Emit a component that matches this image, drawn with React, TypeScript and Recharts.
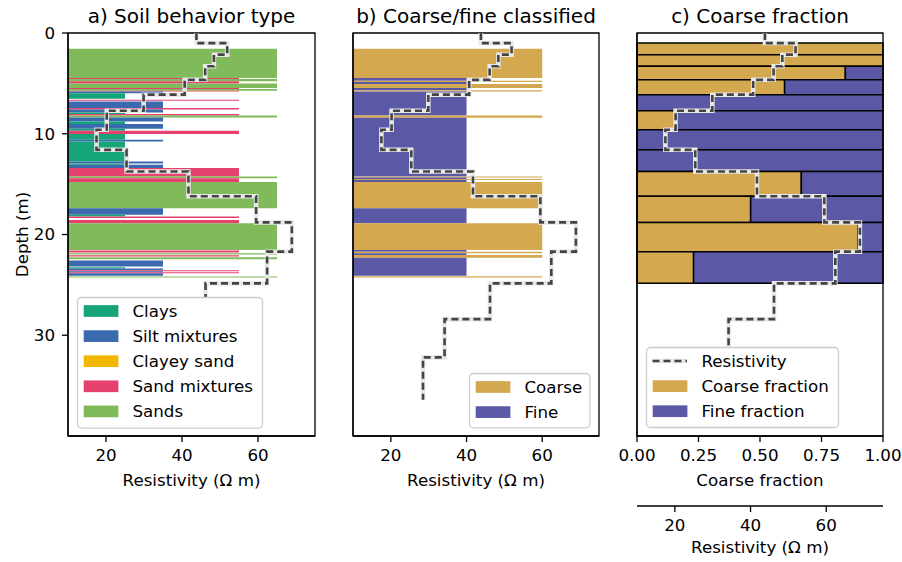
import React from "react";
import { ComposedChart, XAxis, YAxis, ReferenceArea, Scatter, Label } from "recharts";

const FONT = "'DejaVu Sans', sans-serif";
const FS = 16.7;

// ---- layered resistivity model ----
const layerTops = [0, 1.0, 2.15, 3.3, 4.65, 6.12, 7.72, 9.6, 11.6, 13.75, 16.2, 18.8, 21.7, 24.85, 28.4, 32.2];
const lastLayerBottom = 36.4;
const layerResistivity = [43.8, 51.9, 48.4, 46.1, 40.7, 29.9, 20.2, 17.5, 25.4, 41.7, 59.5, 68.9, 62.4, 46.2, 34.2, 28.5];
// coarse fraction per layer (null = no CPT data)
const coarseFraction = [null, 1, 1, 0.847, 0.6, 0, 0.163, 0, 0, 0.668, 0.462, 0.898, 0.23, null, null, null];

// ---- soil behavior type ----
const sbtNames = ["Clays", "Silt mixtures", "Clayey sand", "Sand mixtures", "Sands"];
const sbtColors = ["#16a57b", "#3a69ae", "#f2b701", "#e7426f", "#80ba5a"];
const sbtValue = [25, 35, 45, 55, 65];
// [top, bottom, class index]
const sbtLayers: [number, number, number][] = [
  [1.56, 4.47, 4],
  [4.47, 4.57, 3],
  [4.57, 4.8, 4],
  [4.8, 5.0, 3],
  [5.0, 5.45, 4],
  [5.45, 5.55, 3],
  [5.55, 5.72, 4],
  [5.72, 5.8, 3],
  [5.8, 5.97, 1],
  [5.97, 6.53, 0],
  [6.62, 6.72, 3],
  [6.79, 7.45, 1],
  [7.45, 7.6, 3],
  [7.6, 7.9, 1],
  [7.9, 8.05, 0],
  [8.05, 8.18, 3],
  [8.18, 8.38, 4],
  [8.38, 8.78, 1],
  [8.78, 9.04, 0],
  [9.04, 9.5, 1],
  [9.5, 9.7, 0],
  [9.7, 10.03, 3],
  [10.03, 10.6, 0],
  [10.6, 10.76, 1],
  [10.76, 12.75, 0],
  [12.75, 12.95, 1],
  [12.95, 13.08, 0],
  [13.08, 13.41, 1],
  [13.41, 14.24, 3],
  [14.24, 14.41, 4],
  [14.41, 14.8, 3],
  [14.8, 17.39, 4],
  [17.39, 18.05, 1],
  [18.05, 18.21, 0],
  [18.21, 18.35, 3],
  [18.55, 18.88, 3],
  [18.88, 21.53, 4],
  [21.59, 21.79, 3],
  [21.85, 21.98, 4],
  [22.05, 22.18, 3],
  [22.25, 22.45, 4],
  [22.58, 23.18, 1],
  [23.24, 23.37, 0],
  [23.37, 23.55, 1],
  [23.55, 23.65, 3],
  [23.65, 23.75, 1],
  [23.75, 23.85, 3],
  [23.85, 24.1, 1],
  [24.18, 24.28, 4],
];

// ---- coarse / fine classification ----
const cfNames = ["Coarse", "Fine"];
const cfColors = ["#d4a84e", "#5b58a6"];
const cfValue = [60, 40];
const cfLayers: [number, number, number][] = [
  [1.56, 4.47, 0],
  [4.47, 4.74, 1],
  [4.74, 4.87, 0],
  [4.87, 5.07, 1],
  [5.07, 5.47, 0],
  [5.47, 5.67, 1],
  [5.67, 5.8, 0],
  [5.8, 8.19, 1],
  [8.19, 8.4, 0],
  [8.4, 14.24, 1],
  [14.24, 14.34, 0],
  [14.34, 14.48, 1],
  [14.48, 14.6, 0],
  [14.6, 14.8, 1],
  [14.8, 17.39, 0],
  [17.39, 18.88, 1],
  [18.88, 21.53, 0],
  [21.53, 21.7, 1],
  [21.7, 21.86, 0],
  [21.86, 22.03, 1],
  [22.03, 22.3, 0],
  [22.3, 24.1, 1],
  [24.15, 24.27, 0],
];

const RES_DOMAIN: [number, number] = [10, 75];
const RES_TICKS = [20, 40, 60];
const DEPTH_DOMAIN: [number, number] = [0, 40];
const DEPTH_TICKS = [0, 10, 20, 30];
const FRAC_DOMAIN: [number, number] = [0, 1];
const FRAC_TICKS = [0, 0.25, 0.5, 0.75, 1];

const layerBottom = (i: number) => (i + 1 < layerTops.length ? layerTops[i + 1] : lastLayerBottom);

const resPoints = layerTops.flatMap((top, i) => [
  { r: layerResistivity[i], d: top },
  { r: layerResistivity[i], d: layerBottom(i) },
]);

// anchor points so the fraction axis gets a scale
const fracPoints = layerTops
  .map((top, i) => ({ f: coarseFraction[i], d: (top + layerBottom(i)) / 2 }))
  .filter((p) => p.f !== null);

const tickStyle = { fill: "#000", fontSize: FS, fontFamily: FONT };
const labelStyle = { fill: "#000", fontSize: FS, fontFamily: FONT };
const spine = { stroke: "#000", strokeWidth: 1.3 };

const NoDot = () => <g />;

const resLine = (xAxisId: string | number) => [
  <Scatter
    key="halo"
    xAxisId={xAxisId}
    data={resPoints}
    fill="none"
    shape={NoDot}
    line={{ stroke: "#e8e8e8", strokeWidth: 4.5 }}
    isAnimationActive={false}
  />,
  <Scatter
    key="dash"
    xAxisId={xAxisId}
    data={resPoints}
    fill="none"
    shape={NoDot}
    line={{ stroke: "#444444", strokeWidth: 2.6, strokeDasharray: "7 4" }}
    isAnimationActive={false}
  />,
];

// full box around the plot (matplotlib spines)
const frame = (xAxisId: string | number) => (
  <ReferenceArea
    xAxisId={xAxisId}
    x1={RES_DOMAIN[0]}
    x2={RES_DOMAIN[1]}
    y1={DEPTH_DOMAIN[0]}
    y2={DEPTH_DOMAIN[1]}
    fill="none"
    stroke="#000"
    strokeWidth={1.3}
    ifOverflow="visible"
  />
);

const depthAxis = (width: number, showLabels: boolean) => (
  <YAxis
    type="number"
    dataKey="d"
    domain={DEPTH_DOMAIN}
    ticks={DEPTH_TICKS}
    reversed
    allowDataOverflow
    width={width}
    tick={showLabels ? tickStyle : false}
    tickLine={spine}
    axisLine={spine}
    tickSize={6}
    tickMargin={7}
  >
    {showLabels && (
      <Label
        value="Depth (m)"
        angle={-90}
        position="insideLeft"
        offset={22}
        style={{ ...labelStyle, textAnchor: "middle" }}
      />
    )}
  </YAxis>
);

const resAxis = (id: string | number, height: number, offset: number) => (
  <XAxis
    xAxisId={id}
    type="number"
    dataKey="r"
    domain={RES_DOMAIN}
    ticks={RES_TICKS}
    allowDataOverflow
    height={height}
    tick={tickStyle}
    tickLine={spine}
    axisLine={spine}
    tickSize={6}
    tickMargin={7}
  >
    <Label value="Resistivity (Ω m)" position="insideBottom" offset={offset} style={labelStyle} />
  </XAxis>
);

type LegendItem = { label: string; color: string; kind: "patch" | "line" };

const LegendBox = ({ left, top, width, height, items }: { left: number; top: number; width: number; height: number; items: LegendItem[] }) => (
  <svg style={{ position: "absolute", left, top, overflow: "visible" }} width={width} height={height}>
    <rect x={0.5} y={0.5} width={width - 1} height={height - 1} rx={4} fill="#fff" stroke="#cccccc" strokeWidth={1.3} />
    {items.map((it, i) => {
      const cy = 14 + i * 25.1;
      return (
        <g key={it.label}>
          {it.kind === "patch" ? (
            <rect x={6.7} y={cy - 5.85} width={34.7} height={11.7} fill={it.color} />
          ) : (
            <g>
              <line x1={6.5} x2={41} y1={cy} y2={cy} stroke="#e8e8e8" strokeWidth={4.5} />
              <line x1={6.5} x2={41} y1={cy} y2={cy} stroke={it.color} strokeWidth={2.6} strokeDasharray="7 4" />
            </g>
          )}
          <text x={55.4} y={cy} dominantBaseline="central" fontSize={FS} fontFamily={FONT} fill="#000">
            {it.label}
          </text>
        </g>
      );
    })}
  </svg>
);

const Title = ({ center, text }: { center: number; text: string }) => (
  <div
    style={{
      position: "absolute",
      left: center - 150,
      width: 300,
      top: 5,
      textAlign: "center",
      fontFamily: FONT,
      fontSize: 20,
      lineHeight: "23px",
      color: "#000",
      whiteSpace: "nowrap",
    }}
  >
    {text}
  </div>
);

export default function App() {
  return (
    <div style={{ position: "absolute", left: 0, top: 0, width: 902, height: 562, background: "#fff", fontFamily: FONT }}>
      {/* a) soil behavior type */}
      <div style={{ position: "absolute", left: 0, top: 0 }}>
        <ComposedChart width={330} height={506} margin={{ top: 33, right: 15, bottom: 0, left: 0 }}>
          {resAxis(0, 70, 20)}
          {depthAxis(68, true)}
          {sbtLayers.map(([t, b, c], i) => (
            <ReferenceArea
              key={"s" + i}
              x1={0}
              x2={sbtValue[c]}
              y1={t}
              y2={b}
              fill={sbtColors[c]}
              fillOpacity={1}
              stroke="none"
              ifOverflow="hidden"
            />
          ))}
          {frame(0)}
          {resLine(0)}
        </ComposedChart>
      </div>

      {/* b) coarse / fine */}
      <div style={{ position: "absolute", left: 300, top: 0 }}>
        <ComposedChart width={300} height={506} margin={{ top: 33, right: 1, bottom: 0, left: 0 }}>
          {resAxis(0, 70, 20)}
          {depthAxis(53, false)}
          {cfLayers.map(([t, b, c], i) => (
            <ReferenceArea
              key={"c" + i}
              x1={0}
              x2={cfValue[c]}
              y1={t}
              y2={b}
              fill={cfColors[c]}
              fillOpacity={1}
              stroke="none"
              ifOverflow="hidden"
            />
          ))}
          {frame(0)}
          {resLine(0)}
        </ComposedChart>
      </div>

      {/* c) coarse fraction */}
      <div style={{ position: "absolute", left: 600, top: 0 }}>
        <ComposedChart width={302} height={562} margin={{ top: 33, right: 19, bottom: 0, left: 0 }}>
          <XAxis
            xAxisId="frac"
            type="number"
            dataKey="f"
            domain={FRAC_DOMAIN}
            ticks={FRAC_TICKS}
            interval={0}
            allowDataOverflow
            tickFormatter={(v: number) => v.toFixed(2)}
            height={70}
            tick={tickStyle}
            tickLine={spine}
            axisLine={spine}
            tickSize={6}
            tickMargin={7}
          >
            <Label value="Coarse fraction" position="insideBottom" offset={20} style={labelStyle} />
          </XAxis>
          {resAxis("res", 56, 9)}
          {depthAxis(37, false)}
          <Scatter xAxisId="frac" data={fracPoints} fill="none" shape={NoDot} legendType="none" isAnimationActive={false} />
          {layerTops.map((t, i) => {
            const f = coarseFraction[i];
            if (f === null) return null;
            return (
              <React.Fragment key={"f" + i}>
                {f > 0 && (
                  <ReferenceArea xAxisId="frac" x1={0} x2={f} y1={t} y2={layerBottom(i)} fill={cfColors[0]} fillOpacity={1} stroke="#000" strokeWidth={1.5} />
                )}
                {f < 1 && (
                  <ReferenceArea xAxisId="frac" x1={f} x2={1} y1={t} y2={layerBottom(i)} fill={cfColors[1]} fillOpacity={1} stroke="#000" strokeWidth={1.5} />
                )}
              </React.Fragment>
            );
          })}
          {frame("res")}
          {resLine("res")}
        </ComposedChart>
      </div>

      <Title center={191.5} text="a) Soil behavior type" />
      <Title center={476} text="b) Coarse/fine classified" />
      <Title center={760} text="c) Coarse fraction" />

      <LegendBox
        left={77.3}
        top={296.7}
        width={186}
        height={131.6}
        items={sbtNames.map((n, i) => ({ label: n, color: sbtColors[i], kind: "patch" as const }))}
      />
      <LegendBox
        left={469.3}
        top={372.7}
        width={121.4}
        height={55.3}
        items={cfNames.map((n, i) => ({ label: n, color: cfColors[i], kind: "patch" as const }))}
      />
      <LegendBox
        left={646}
        top={347.3}
        width={193}
        height={81}
        items={[
          { label: "Resistivity", color: "#444444", kind: "line" as const },
          { label: "Coarse fraction", color: cfColors[0], kind: "patch" as const },
          { label: "Fine fraction", color: cfColors[1], kind: "patch" as const },
        ]}
      />
    </div>
  );
}
